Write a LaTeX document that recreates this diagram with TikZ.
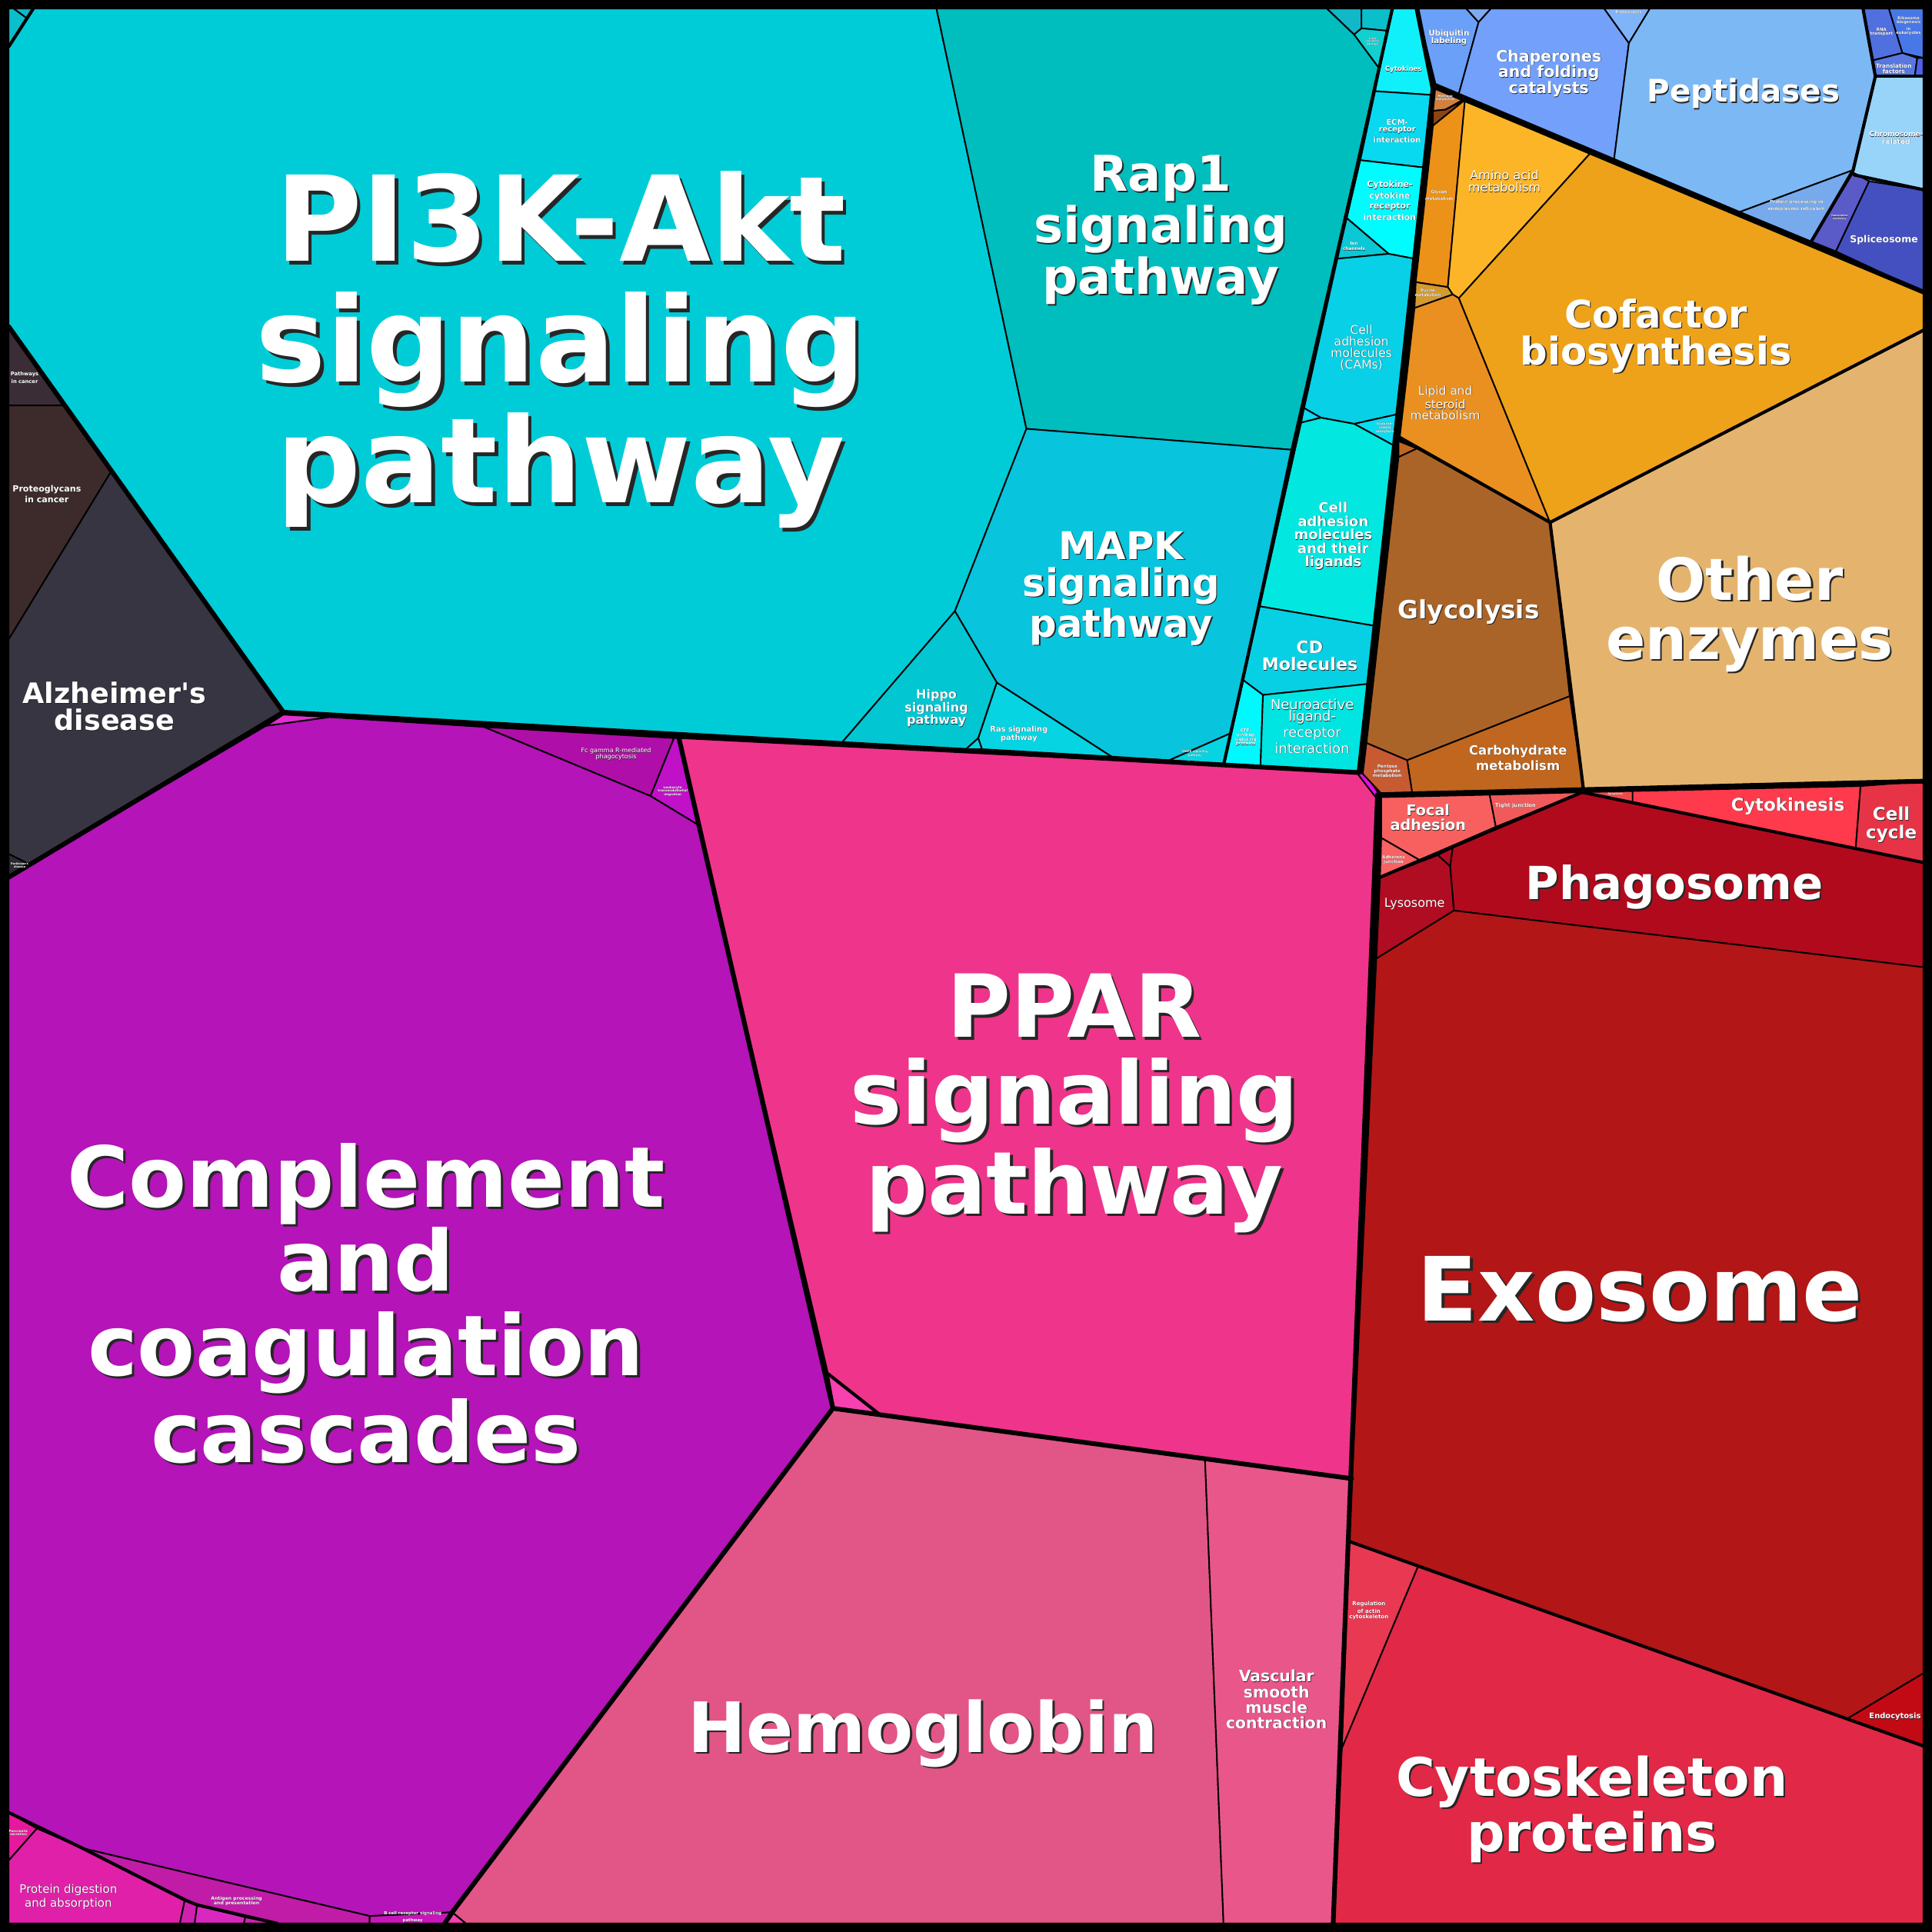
\documentclass[tikz,border=0pt]{standalone}
\usepackage{fontspec}
\usepackage{xcolor}
\setmainfont{DejaVu Sans}

% cell colours
\definecolor{cPIK}{HTML}{00CCD8}
\definecolor{cRap}{HTML}{00BDBE}
\definecolor{cMAPK}{HTML}{08C4DC}
\definecolor{cHippo}{HTML}{02C6D2}
\definecolor{cRas}{HTML}{06D4E2}
\definecolor{cTopA}{HTML}{0ABFCB}
\definecolor{cTopB}{HTML}{10B8C8}
\definecolor{cErbB}{HTML}{10D0D0}
\definecolor{cCytok}{HTML}{10F0FA}
\definecolor{cECM}{HTML}{08D8F0}
\definecolor{cCCRI}{HTML}{00FCFF}
\definecolor{cIon}{HTML}{0AC8D6}
\definecolor{cCAM}{HTML}{08D0E6}
\definecolor{cCAML}{HTML}{02E8E0}
\definecolor{cCD}{HTML}{08D0E4}
\definecolor{cGTP}{HTML}{00F8FF}
\definecolor{cNeuro}{HTML}{00E4E2}
\definecolor{cEnz}{HTML}{0ADCF2}
\definecolor{cPath}{HTML}{3A2D36}
\definecolor{cProteo}{HTML}{3D2B2B}
\definecolor{cAlz}{HTML}{373541}
\definecolor{cPark}{HTML}{2C2A30}
\definecolor{cComp}{HTML}{B414B8}
\definecolor{cFc}{HTML}{B00EA8}
\definecolor{cLeuk}{HTML}{C010C8}
\definecolor{cProtDig}{HTML}{E020A8}
\definecolor{cPanc}{HTML}{E8189C}
\definecolor{cAntigen}{HTML}{C01CA8}
\definecolor{cBcell}{HTML}{CA14BC}
\definecolor{cSmA}{HTML}{D020B0}
\definecolor{cSmB}{HTML}{D828C0}
\definecolor{cPinkTiny}{HTML}{E030D0}
\definecolor{cPPAR}{HTML}{EF348B}
\definecolor{cPPARtiny}{HTML}{F840B0}
\definecolor{cMagenta}{HTML}{E010E0}
\definecolor{cHemo}{HTML}{E25587}
\definecolor{cVasc}{HTML}{E8568A}
\definecolor{cFocal}{HTML}{F86060}
\definecolor{cTight}{HTML}{F05A5A}
\definecolor{cAdh}{HTML}{F86262}
\definecolor{cLyso}{HTML}{B00C22}
\definecolor{cPhago}{HTML}{B10A1D}
\definecolor{cExo}{HTML}{B31616}
\definecolor{cKin}{HTML}{FF3A4C}
\definecolor{cCycle}{HTML}{E63446}
\definecolor{cActin}{HTML}{E83852}
\definecolor{cCyto}{HTML}{E12846}
\definecolor{cEndo}{HTML}{C20A15}
\definecolor{cApop}{HTML}{EE4A4A}
\definecolor{cAmino}{HTML}{FBB527}
\definecolor{cGlycan}{HTML}{EC9218}
\definecolor{cCofac}{HTML}{EEA219}
\definecolor{cLipid}{HTML}{E99020}
\definecolor{cPurine}{HTML}{D49A30}
\definecolor{cMethane}{HTML}{D08040}
\definecolor{cHist}{HTML}{8B4513}
\definecolor{cGlyco}{HTML}{AB6427}
\definecolor{cCarbo}{HTML}{C0661E}
\definecolor{cPentose}{HTML}{C85A32}
\definecolor{cOther}{HTML}{E4B46E}
\definecolor{cUbiq}{HTML}{6AA0F8}
\definecolor{cUbiqT}{HTML}{80AAF0}
\definecolor{cChap}{HTML}{72A0FA}
\definecolor{cProtea}{HTML}{80B4F8}
\definecolor{cPept}{HTML}{7CB8F4}
\definecolor{cPPER}{HTML}{76AAEC}
\definecolor{cTrans}{HTML}{5A5AC8}
\definecolor{cSplice}{HTML}{4450C0}
\definecolor{cChrom}{HTML}{98D4FA}
\definecolor{cRNA}{HTML}{5070E0}
\definecolor{cRibo}{HTML}{4878E8}
\definecolor{cTransl}{HTML}{5878E0}
\definecolor{cBtiny}{HTML}{5060E8}

\newcommand\fsz[2]{\fontsize{#1}{#2}\selectfont}
% straight apostrophe, not mapped to a curly quote
\newcommand\apos{\XeTeXglyph\XeTeXglyphindex "quotesingle"\relax}
% white text with a dark drop shadow, one line at a time
\newcommand\shd[1]{\leavevmode\rlap{\kern.03em\raisebox{-.03em}{\color{black!85}#1}}#1}

\tikzset{
  cell/.style={draw=black, line width=0.6pt, line join=round},
  subline/.style={draw=black, line width=1.3pt, line join=round, line cap=round},
  grpline/.style={draw=black, line width=1.9pt, line join=round, line cap=round},
  lbl/.style={text=white, align=center, inner sep=0pt, anchor=base},
}

\begin{document}
\begin{tikzpicture}[x=0.5pt, y=-0.5pt]
    \useasboundingbox (0,0) rectangle (1568,1568);
    \fill[black] (0,0) rectangle (1568,1568);

    % Signaling group
    \draw[cell, fill=cTopB] (11,7) -- (27,7) -- (22,15) -- cycle;
    \draw[cell, fill=cTopA] (7,7) -- (11,7) -- (22,15) -- (7,38) -- cycle;
    \draw[cell, fill=cPIK] (27,7) -- (760,7) -- (833,348) -- (775,496) -- (683,603) -- (230,578) -- (7,265) -- (7,38) -- cycle;
    \draw[cell, fill=cRap] (760,7) -- (1077,7) -- (1099,28) -- (1119,55) -- (1048,365) -- (833,348) -- cycle;
    \draw[cell, fill=cMAPK] (833,348) -- (1048,365) -- (999,595) -- (949,617) -- (902,614) -- (809,554) -- (775,496) -- cycle;
    \draw[cell, fill=cHippo] (775,496) -- (809,554) -- (794,599) -- (784,608) -- (683,603) -- cycle;
    \draw[cell, fill=cRas] (794,599) -- (797,608) -- (784,608) -- cycle;
    \draw[cell, fill=cRas] (809,554) -- (902,614) -- (797,608) -- (794,599) -- cycle;
    \draw[cell, fill=cRas] (999,595) -- (994,620) -- (949,617) -- cycle;
    \draw[cell, fill=cTopB] (1077,7) -- (1105,7) -- (1105,23) -- (1099,28) -- cycle;
    \draw[cell, fill=cTopA] (1105,7) -- (1130,7) -- (1126,25) -- (1105,23) -- cycle;
    \draw[cell, fill=cErbB] (1099,28) -- (1105,23) -- (1126,25) -- (1119,55) -- cycle;
    \draw[cell, fill=cCytok] (1130,7) -- (1150,7) -- (1163,72) -- (1161,77) -- (1116,74) -- cycle;
    \draw[cell, fill=cECM] (1116,74) -- (1161,77) -- (1156,136) -- (1104,130) -- cycle;
    \draw[cell, fill=cCCRI] (1104,130) -- (1156,136) -- (1148,210) -- (1127,206) -- (1093,177) -- cycle;
    \draw[cell, fill=cIon] (1093,177) -- (1127,206) -- (1085,210) -- cycle;
    \draw[cell, fill=cCAM] (1085,210) -- (1127,206) -- (1148,210) -- (1135,336) -- (1099,344) -- (1072,339) -- (1058,331) -- cycle;
    \draw[cell, fill=cEnz] (1058,331) -- (1072,339) -- (1056,343) -- cycle;
    \draw[cell, fill=cEnz] (1099,344) -- (1135,336) -- (1132,362) -- cycle;
    \draw[cell, fill=cCAML] (1056,343) -- (1072,339) -- (1099,344) -- (1132,362) -- (1116,508) -- (1022,492) -- cycle;
    \draw[cell, fill=cCD] (1022,492) -- (1116,508) -- (1111,555) -- (1025,564) -- (1009,552) -- cycle;
    \draw[cell, fill=cGTP] (1009,552) -- (1025,564) -- (1023,622) -- (993,621) -- cycle;
    \draw[cell, fill=cNeuro] (1025,564) -- (1111,555) -- (1103,627) -- (1023,622) -- cycle;

    % Disease group
    \draw[cell, fill=cPath] (7,265) -- (52,329) -- (7,329) -- cycle;
    \draw[cell, fill=cProteo] (7,329) -- (52,329) -- (90,383) -- (7,519) -- cycle;
    \draw[cell, fill=cAlz] (7,519) -- (90,383) -- (230,578) -- (25,702) -- (7,693) -- cycle;
    \draw[cell, fill=cPark] (7,693) -- (25,702) -- (7,712) -- cycle;

    % Immune group
    \draw[cell, fill=cComp] (7,712) -- (216,589) -- (267,582) -- (393,590) -- (528,646) -- (566,669) -- (676,1143) -- (367,1552) -- (300,1555) -- (67,1500) -- (7,1471) -- cycle;
    \draw[cell, fill=cPinkTiny] (230,580) -- (267,582) -- (216,589) -- cycle;
    \draw[cell, fill=cFc] (393,590) -- (547,599) -- (528,646) -- cycle;
    \draw[cell, fill=cLeuk] (547,599) -- (551,599) -- (566,669) -- (528,646) -- cycle;
    \draw[cell, fill=cPanc] (7,1471) -- (30,1484) -- (7,1510) -- cycle;
    \draw[cell, fill=cProtDig] (7,1510) -- (30,1484) -- (67,1500) -- (150,1542) -- (146,1561) -- (7,1561) -- cycle;
    \draw[cell, fill=cAntigen] (67,1500) -- (300,1555) -- (300,1561) -- (225,1561) -- (160,1546) -- cycle;
    \draw[cell, fill=cSmA] (150,1542) -- (160,1546) -- (158,1561) -- (146,1561) -- cycle;
    \draw[cell, fill=cSmB] (160,1546) -- (199,1556) -- (198,1561) -- (158,1561) -- cycle;
    \draw[cell, fill=cSmA] (199,1556) -- (225,1561) -- (198,1561) -- cycle;
    \draw[cell, fill=cBcell] (300,1555) -- (367,1552) -- (361,1561) -- (300,1561) -- cycle;

    % Lipid signaling and blood
    \draw[cell, fill=cPPAR] (551,599) -- (1103,627) -- (1118,645) -- (1097,1200) -- (714,1148) -- (677,1143) -- (672,1115) -- cycle;
    \draw[cell, fill=cPPARtiny] (672,1115) -- (714,1148) -- (677,1143) -- cycle;
    \draw[cell, fill=cMagenta] (1101,627) -- (1108,628) -- (1119,644) -- (1118,649) -- cycle;
    \draw[cell, fill=cHemo] (677,1143) -- (714,1148) -- (978,1185) -- (993,1561) -- (378,1561) -- (367,1552) -- cycle;
    \draw[cell, fill=cPPARtiny] (367,1552) -- (378,1561) -- (361,1561) -- cycle;
    \draw[cell, fill=cVasc] (978,1185) -- (1097,1200) -- (1082,1561) -- (993,1561) -- cycle;

    % Cellular processes
    \draw[cell, fill=cFocal] (1121,647) -- (1209,645) -- (1214,671) -- (1152,698) -- (1121,680) -- cycle;
    \draw[cell, fill=cTight] (1209,645) -- (1284,643) -- (1214,671) -- cycle;
    \draw[cell, fill=cAdh] (1121,680) -- (1152,698) -- (1120,712) -- cycle;
    \draw[cell, fill=cLyso] (1120,712) -- (1167,694) -- (1177,703) -- (1180,739) -- (1117,778) -- cycle;
    \draw[cell, fill=cLyso] (1167,694) -- (1179,688) -- (1177,703) -- cycle;
    \draw[cell, fill=cPhago] (1179,688) -- (1284,643) -- (1561,700) -- (1561,785) -- (1180,739) -- (1177,703) -- cycle;
    \draw[cell, fill=cApop] (1284,643) -- (1325,642) -- (1325,651) -- cycle;
    \draw[cell, fill=cKin] (1325,642) -- (1510,638) -- (1506,689) -- (1325,651) -- cycle;
    \draw[cell, fill=cCycle] (1510,638) -- (1561,634) -- (1561,700) -- (1506,689) -- cycle;
    \draw[cell, fill=cExo] (1117,778) -- (1180,739) -- (1561,785) -- (1561,1358) -- (1499,1395) -- (1095,1251) -- cycle;
    \draw[cell, fill=cEndo] (1499,1395) -- (1561,1358) -- (1561,1417) -- cycle;
    \draw[cell, fill=cActin] (1095,1251) -- (1151,1271) -- (1089,1419) -- cycle;
    \draw[cell, fill=cCyto] (1151,1271) -- (1561,1417) -- (1561,1561) -- (1082,1561) -- (1089,1419) -- cycle;

    % Metabolism
    \draw[cell, fill=cMethane] (1165,70) -- (1189,80) -- (1173,89) -- (1163,90) -- cycle;
    \draw[cell, fill=cHist] (1163,90) -- (1173,89) -- (1189,81) -- (1163,102) -- cycle;
    \draw[cell, fill=cGlycan] (1163,102) -- (1189,81) -- (1175,233) -- (1149,229) -- cycle;
    \draw[cell, fill=cAmino] (1189,80) -- (1291,124) -- (1184,242) -- (1179,239) -- (1175,233) -- cycle;
    \draw[cell, fill=cPurine] (1149,229) -- (1175,233) -- (1179,239) -- (1148,250) -- cycle;
    \draw[cell, fill=cLipid] (1148,250) -- (1179,239) -- (1184,242) -- (1258,424) -- (1136,355) -- cycle;
    \draw[cell, fill=cCofac] (1184,242) -- (1291,124) -- (1561,237) -- (1561,268) -- (1258,424) -- cycle;
    \draw[cell, fill=cCarbo] (1135,358) -- (1150,364) -- (1135,371) -- cycle;
    \draw[cell, fill=cGlyco] (1135,371) -- (1150,364) -- (1258,424) -- (1274,565) -- (1142,617) -- (1109,603) -- cycle;
    \draw[cell, fill=cCarbo] (1142,617) -- (1274,565) -- (1285,640) -- (1146,643) -- cycle;
    \draw[cell, fill=cPentose] (1109,603) -- (1142,617) -- (1146,643) -- (1121,644) -- (1106,628) -- cycle;
    \draw[cell, fill=cOther] (1258,424) -- (1561,268) -- (1561,633) -- (1285,640) -- cycle;

    % Genetic information processing
    \draw[cell, fill=cUbiq] (1150,7) -- (1190,7) -- (1200,18) -- (1184,76) -- (1165,68) -- cycle;
    \draw[cell, fill=cUbiqT] (1190,7) -- (1210,7) -- (1200,18) -- cycle;
    \draw[cell, fill=cChap] (1210,7) -- (1302,7) -- (1322,35) -- (1310,129) -- (1184,76) -- (1200,18) -- cycle;
    \draw[cell, fill=cProtea] (1302,7) -- (1339,7) -- (1322,35) -- cycle;
    \draw[cell, fill=cPept] (1339,7) -- (1512,7) -- (1522,62) -- (1504,138) -- (1412,172) -- (1310,129) -- (1322,35) -- cycle;
    \draw[cell, fill=cPPER] (1412,172) -- (1504,138) -- (1470,196) -- cycle;
    \draw[cell, fill=cTrans] (1504,140) -- (1517,147) -- (1490,204) -- (1470,196) -- cycle;
    \draw[cell, fill=cSplice] (1517,147) -- (1561,154) -- (1561,237) -- (1490,204) -- cycle;
    \draw[cell, fill=cChrom] (1522,62) -- (1561,62) -- (1561,154) -- (1517,147) -- (1504,140) -- cycle;
    \draw[cell, fill=cRNA] (1512,7) -- (1533,7) -- (1544,43) -- (1520,49) -- cycle;
    \draw[cell, fill=cRibo] (1533,7) -- (1561,7) -- (1561,47) -- (1544,43) -- cycle;
    \draw[cell, fill=cTransl] (1520,49) -- (1544,43) -- (1556,47) -- (1554,62) -- (1522,62) -- cycle;
    \draw[cell, fill=cBtiny] (1556,47) -- (1561,47) -- (1561,62) -- (1554,62) -- cycle;

    % subgroup borders
    \draw[subline] (27,7) -- (7,38);
    \draw[subline] (1130,7) -- (993,621);
    \draw[subline] (1136,355) -- (1258,424) -- (1561,268);
    \draw[subline] (1258,424) -- (1285,640);
    \draw[subline] (1512,7) -- (1522,62) -- (1504,138) -- (1470,196);
    \draw[subline] (1522,62) -- (1561,62);
    \draw[subline] (1505,142) -- (1561,154);
    \draw[subline] (1120,712) -- (1284,643) -- (1561,700);
    \draw[subline] (1095,1251) -- (1499,1395) -- (1561,1417);
    \draw[subline] (7,1471) -- (67,1500) -- (150,1542) -- (160,1546) -- (225,1561);
    \draw[subline] (672,1115) -- (714,1148);

    % group borders
    \draw[grpline] (7,265) -- (230,578) -- (1103,627);
    \draw[grpline] (1150,7) -- (1163,72) -- (1103,627);
    \draw[grpline] (230,578) -- (7,712);
    \draw[grpline] (551,599) -- (676,1143) -- (1097,1200);
    \draw[grpline] (676,1143) -- (367,1552) -- (361,1561);
    \draw[grpline] (1118,645) -- (1082,1561);
    \draw[grpline] (1118,645) -- (1561,634);
    \draw[grpline] (1163,70) -- (1561,237);

    % labels (anchored at the baseline of the last line), big ones first
    \node[lbl, font={\bfseries\fsz{48}{49}}] (pik) at (455,408) {\shd{PI3K-Akt}\\\shd{signaling}\\\shd{pathway}};
    \node[lbl, font={\bfseries\fsz{34.1}{34.2}}] (comp) at (297,1187) {\shd{Complement}\\\shd{and}\\\shd{coagulation}\\\shd{cascades}};
    \node[lbl, font={\bfseries\fsz{35.3}{35}}] (ppar) at (872,985) {\shd{PPAR}\\\shd{signaling}\\\shd{pathway}};
    \node[lbl, font={\bfseries\fsz{36}{36}}] (exo) at (1331,1072) {\shd{Exosome}};
    \node[lbl, font={\bfseries\fsz{28.2}{28}}] (hemo) at (749,1422) {\shd{Hemoglobin}};
    \node[lbl, font={\bfseries\fsz{20}{19.5}}] (rap) at (942,239) {\shd{Rap1}\\\shd{signaling}\\\shd{pathway}};
    \node[lbl, font={\bfseries\fsz{15.5}{15}}] (mapk) at (910,517) {\shd{MAPK}\\\shd{signaling}\\\shd{pathway}};
    \node[lbl, font={\bfseries\fsz{15.5}{15}}] (cofac) at (1344,296) {\shd{Cofactor}\\\shd{biosynthesis}};
    \node[lbl, font={\bfseries\fsz{23.6}{24}}] (other) at (1420,535) {\shd{Other}\\\shd{enzymes}};
    \node[lbl, font={\bfseries\fsz{12.6}{12.6}}] (pept) at (1415,83) {\shd{Peptidases}};
    \node[lbl, font={\bfseries\fsz{18.5}{18.5}}] (phago) at (1359,730) {\shd{Phagosome}};
    \node[lbl, font={\bfseries\fsz{21.6}{21.5}}] (cyto) at (1292,1503) {\shd{Cytoskeleton}\\\shd{proteins}};
    \node[lbl, font={\bfseries\fsz{11.4}{10.85}}] (alz) at (93,592.7) {\shd{Alzheimer\apos s}\\\shd{disease}};
    \node[lbl, font={\bfseries\fsz{10.2}{10.2}}] (glyco) at (1192,502) {\shd{Glycolysis}};

    % middle-sized labels
    \node[lbl, font={\bfseries\fsz{6.4}{6.5}}] (chap) at (1257,76) {\shd{Chaperones}\\\shd{and folding}\\\shd{catalysts}};
    \node[lbl, font={\bfseries\fsz{6.36}{6.3}}] (vasc) at (1036,1402.8) {\shd{Vascular}\\\shd{smooth}\\\shd{muscle}\\\shd{contraction}};
    \node[lbl, font={\bfseries\fsz{6.9}{7}}] (cd) at (1063,544) {\shd{CD}\\\shd{Molecules}};
    \node[lbl, font={\bfseries\fsz{5.6}{5.5}}] (caml) at (1082,460) {\shd{Cell}\\\shd{adhesion}\\\shd{molecules}\\\shd{and their}\\\shd{ligands}};
    \node[lbl, font={\fsz{5.6}{4.7}}] (neuro) at (1065,611.2) {\shd{Neuroactive}\\\shd{ligand-}\\\shd{receptor}\\\shd{interaction}};
    \node[lbl, font={\fsz{4.9}{4.65}}] (cams) at (1105,299) {\shd{Cell}\\\shd{adhesion}\\\shd{molecules}\\\shd{(CAMs)}};
    \node[lbl, font={\bfseries\fsz{7.1}{7}}] (kin) at (1451,658) {\shd{Cytokinesis}};
    \node[lbl, font={\bfseries\fsz{7.2}{7.3}}] (cycle) at (1535,680.6) {\shd{Cell}\\\shd{cycle}};
    \node[lbl, font={\bfseries\fsz{6}{5.9}}] (focal) at (1159,673.8) {\shd{Focal}\\\shd{adhesion}};
    \node[lbl, font={\fsz{5}{5}}] (lyso) at (1148,736) {\shd{Lysosome}};
    \node[lbl, font={\bfseries\fsz{5.16}{5}}] (carbo) at (1232,625) {\shd{Carbohydrate}\\\shd{metabolism}};
    \node[lbl, font={\fsz{4.8}{4.2}}] (lipid) at (1173,340.4) {\shd{Lipid and}\\\shd{steroid}\\\shd{metabolism}};
    \node[lbl, font={\fsz{5}{5}}] (amino) at (1221,156) {\shd{Amino acid}\\\shd{metabolism}};
    \node[lbl, font={\bfseries\fsz{5}{5.2}}] (hippo) at (760,587.8) {\shd{Hippo}\\\shd{signaling}\\\shd{pathway}};
    \node[lbl, font={\fsz{4.7}{4.5}}] (protdig) at (55.5,1547.7) {\shd{Protein digestion}\\\shd{and absorption}};
    \node[lbl, font={\bfseries\fsz{3.9}{3.9}}] (splice) at (1529,197) {\shd{Spliceosome}};
    \node[lbl, font={\bfseries\fsz{3.45}{3.3}}] (proteo) at (38,408.1) {\shd{Proteoglycans}\\\shd{in cancer}};
    \node[lbl, font={\bfseries\fsz{3.45}{3.1}}] (ccri) at (1128,178.6) {\shd{Cytokine-}\\\shd{cytokine}\\\shd{receptor}\\\shd{interaction}};
    \node[lbl, font={\bfseries\fsz{3.1}{3}}] (ecm) at (1134,115.5) {\shd{ECM-}\\\shd{receptor}\\\shd{interaction}};
    \node[lbl, font={\bfseries\fsz{3.2}{3.2}}] (ubiq) at (1176,35.4) {\shd{Ubiquitin}\\\shd{labeling}};
    \node[lbl, font={\bfseries\fsz{3.1}{3.3}}] (ras) at (827,600.6) {\shd{Ras signaling}\\\shd{pathway}};
    \node[lbl, font={\bfseries\fsz{3.1}{3.1}}] (endo) at (1538,1395) {\shd{Endocytosis}};
    \node[lbl, font={\bfseries\fsz{2.8}{3}}] (chrom) at (1539,117) {\shd{Chromosome-}\\\shd{related}};
    \node[lbl, font={\bfseries\fsz{2.7}{2.7}}] (cytok) at (1139,58) {\shd{Cytokines}};
    \node[lbl, font={\fsz{2.5}{2.5}}] (fc) at (500,616) {\shd{Fc gamma R-mediated}\\\shd{phagocytosis}};

    % small labels
    \node[lbl, font={\bfseries\fsz{2.3}{2.3}}] (transl) at (1537,59.6) {\shd{Translation}\\\shd{factors}};
    \node[lbl, font={\bfseries\fsz{2.2}{2.1}}] (actin) at (1111,1313.4) {\shd{Regulation}\\\shd{of actin}\\\shd{cytoskeleton}};
    \node[lbl, font={\bfseries\fsz{2.1}{2.1}}] (tight) at (1230,655) {\shd{Tight junction}};
    \node[lbl, font={\bfseries\fsz{2.1}{2.1}}] (path) at (20,311.2) {\shd{Pathways}\\\shd{in cancer}};
    \node[lbl, font={\bfseries\fsz{1.9}{2}}] (antigen) at (192,1546) {\shd{Antigen processing}\\\shd{and presentation}};
    \node[lbl, font={\bfseries\fsz{1.8}{2.2}}] (ion) at (1099,203.4) {\shd{Ion}\\\shd{channels}};
    \node[lbl, font={\bfseries\fsz{1.8}{1.9}}] (pentose) at (1126,630.6) {\shd{Pentose}\\\shd{phosphate}\\\shd{metabolism}};
    \node[lbl, font={\bfseries\fsz{1.8}{1.8}}] (pper) at (1458,170.6) {\shd{Protein processing in}\\\shd{endoplasmic reticulum}};
    \node[lbl, font={\bfseries\fsz{1.7}{1.8}}] (gtp) at (1011,604.8) {\shd{GTP-}\\\shd{binding}\\\shd{signaling}\\\shd{proteins}};
    \node[lbl, font={\bfseries\fsz{1.7}{1.8}}] (adh) at (1131,700.6) {\shd{Adherens}\\\shd{junction}};
    \node[lbl, font={\bfseries\fsz{1.7}{1.7}}] (bcell) at (335,1559.4) {\shd{B cell receptor signaling}\\\shd{pathway}};
    \node[lbl, font={\bfseries\fsz{1.7}{1.7}}] (glycan) at (1168,162.4) {\shd{Glycan}\\\shd{metabolism}};
    \node[lbl, font={\bfseries\fsz{1.7}{1.7}}] (rna) at (1527,28.4) {\shd{RNA}\\\shd{transport}};
    \node[lbl, font={\bfseries\fsz{1.6}{1.7}}] (purine) at (1159,240.4) {\shd{Purine}\\\shd{metabolism}};
    \node[lbl, font={\bfseries\fsz{1.6}{1.6}}] (ribo) at (1549,27.6) {\shd{Ribosome}\\\shd{biogenesis}\\\shd{in}\\\shd{eukaryotes}};
    \node[lbl, font={\bfseries\fsz{1.6}{1.6}}] (protea) at (1322,11) {\shd{Proteasome}};
    \node[lbl, font={\bfseries\fsz{1.4}{1.5}}] (enz) at (1124,351) {\shd{Enzyme-}\\\shd{linked}\\\shd{receptors}};
    \node[lbl, font={\bfseries\fsz{1.3}{1.4}}] (leuk) at (546,645.6) {\shd{Leukocyte}\\\shd{transendothelial}\\\shd{migration}};
    \node[lbl, font={\bfseries\fsz{1.3}{1.4}}] (panc) at (15,1489.8) {\shd{Pancreatic}\\\shd{secretion}};
    \node[lbl, font={\bfseries\fsz{1.2}{1.3}}] (mapk2) at (970,613.6) {\shd{MAPK signaling}\\\shd{pathway}};
    \node[lbl, font={\bfseries\fsz{1.2}{1.3}}] (methane) at (1173,81.6) {\shd{Methane}\\\shd{metabolism}};
    \node[lbl, font={\bfseries\fsz{1.1}{1.2}}] (park) at (16,704.4) {\shd{Parkinson\apos s}\\\shd{disease}};
    \node[lbl, font={\bfseries\fsz{1.1}{1.1}}] (apop) at (1311,645) {\shd{Apoptosis}};
    \node[lbl, font={\bfseries\fsz{1}{1.1}}] (erbb) at (1114,36.4) {\shd{ErbB}\\\shd{signaling}\\\shd{pathway}};
    \node[lbl, font={\bfseries\fsz{0.9}{1}}] (transc) at (1493,178) {\shd{Transcription}\\\shd{machinery}};
\end{tikzpicture}
\end{document}
